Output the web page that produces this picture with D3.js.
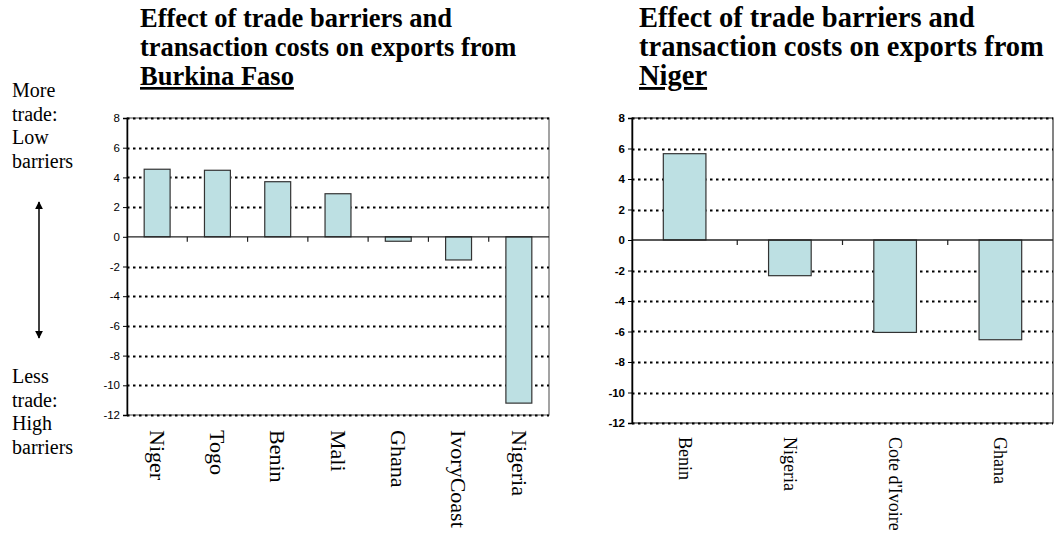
<!DOCTYPE html>
<html>
<head>
<meta charset="utf-8">
<script src="https://cdn.jsdelivr.net/npm/d3@7"></script>
<style>
  body { margin: 0; background: #fff; }
  svg { display: block; }
</style>
</head>
<body>
<svg id="chart" width="1055" height="533"></svg>
<script>
// Burkina Faso export effects by destination
const bfCountries = ["Niger", "Togo", "Benin", "Mali", "Ghana", "IvoryCoast", "Nigeria"];
const bfValues = [4.55, 4.48, 3.71, 2.9, -0.3, -1.56, -11.2];

// Niger export effects by destination
const neCountries = ["Benin", "Nigeria", "Cote d'Ivoire", "Ghana"];
const neValues = [5.66, -2.34, -6.06, -6.54];

const yTicks = [8, 6, 4, 2, 0, -2, -4, -6, -8, -10, -12];
const yDomain = [-12, 8];

const titleLines = ["Effect of trade barriers and", "transaction costs on exports from"];

const svg = d3.select("#chart");
const serif = "'Liberation Serif', 'Times New Roman', serif";
const sans = "'Liberation Sans', Arial, sans-serif";
const barFill = "#bde0e3";

function drawPanel(opts) {
  const { x0, x1, y0, y1, cats, vals, title, bold, labelSize, labelGap, barRatio, frameColor } = opts;
  const g = svg.append("g");

  const x = d3.scaleBand().domain(cats).range([x0, x1]).paddingInner(0).paddingOuter(0);
  const y = d3.scaleLinear().domain(yDomain).range([y1, y0]);

  // title block
  const t = g.append("text").attr("font-family", serif).attr("font-weight", "bold")
    .attr("font-size", opts.titleSize).attr("fill", "#000");
  titleLines.forEach((s, i) => {
    t.append("tspan").attr("x", opts.tx).attr("y", 27 + i * 29).text(s);
  });
  t.append("tspan").attr("x", opts.tx).attr("y", 27 + 2 * 29)
    .attr("text-decoration", "underline").text(title);

  // plot frame
  g.append("rect").attr("x", x0).attr("y", y0).attr("width", x1 - x0).attr("height", y1 - y0)
    .attr("fill", "none").attr("stroke", frameColor).attr("stroke-width", 1.2);

  // dotted gridlines
  g.append("g").selectAll("line").data(yTicks.filter(v => v !== 0)).join("line")
    .attr("x1", x0).attr("x2", x1)
    .attr("y1", d => Math.round(y(d)) + 0.5).attr("y2", d => Math.round(y(d)) + 0.5)
    .attr("stroke", "#000").attr("stroke-width", 2)
    .attr("stroke-dasharray", "2.5,3.5");

  // bars
  const bw = x.bandwidth() * barRatio;
  g.append("g").selectAll("rect").data(vals).join("rect")
    .attr("x", (d, i) => x(cats[i]) + (x.bandwidth() - bw) / 2)
    .attr("y", d => y(Math.max(0, d)))
    .attr("width", bw)
    .attr("height", d => Math.abs(y(d) - y(0)))
    .attr("fill", barFill).attr("stroke", "#333").attr("stroke-width", 1.2);

  // zero line with category ticks
  g.append("line").attr("x1", x0).attr("x2", x1).attr("y1", y(0)).attr("y2", y(0))
    .attr("stroke", "#222").attr("stroke-width", 1.3);
  g.append("g").selectAll("line").data(cats.slice(1)).join("line")
    .attr("x1", d => x(d)).attr("x2", d => x(d))
    .attr("y1", y(0)).attr("y2", y(0) + 5)
    .attr("stroke", "#222").attr("stroke-width", 1.2);

  // y axis
  const yAxis = d3.axisLeft(y).tickValues(yTicks).tickSize(4).tickPadding(3)
    .tickFormat(d => String(d));
  const ya = g.append("g").attr("transform", `translate(${x0},0)`).call(yAxis);
  ya.select(".domain").attr("stroke", "#000").attr("stroke-width", 1.5);
  ya.selectAll(".tick line").attr("stroke", "#000");
  ya.selectAll(".tick text").attr("font-family", sans).attr("font-size", 11.5)
    .attr("font-weight", bold ? "bold" : "normal").attr("fill", "#000");

  // rotated category labels
  g.append("g").selectAll("text").data(cats).join("text")
    .attr("transform", d => `translate(${x(d) + x.bandwidth() / 2},${y1 + labelGap}) rotate(90)`)
    .attr("dy", "0.33em")
    .attr("font-family", serif).attr("font-size", labelSize).attr("fill", "#000")
    .attr("text-anchor", "start")
    .text(d => d);
}

drawPanel({
  x0: 127, x1: 549, y0: 118, y1: 415, tx: 140, titleSize: 26.5,
  cats: bfCountries, vals: bfValues, title: "Burkina Faso",
  bold: false, labelSize: 22, labelGap: 15, barRatio: 0.43, frameColor: "#666"
});

drawPanel({
  x0: 632, x1: 1053, y0: 118, y1: 423, tx: 639, titleSize: 28.5,
  cats: neCountries, vals: neValues, title: "Niger",
  bold: true, labelSize: 18, labelGap: 14, barRatio: 0.405, frameColor: "#333"
});

// side annotation
const notes = svg.append("g").attr("font-family", serif).attr("font-size", 20).attr("fill", "#000");
["More", "trade:", "Low", "barriers"].forEach((s, i) => {
  notes.append("text").attr("x", 12).attr("y", 97 + i * 23.5).text(s);
});
["Less", "trade:", "High", "barriers"].forEach((s, i) => {
  notes.append("text").attr("x", 12).attr("y", 383 + i * 23.5).text(s);
});

const defs = svg.append("defs");
defs.append("marker").attr("id", "head").attr("viewBox", "0 0 10 10")
  .attr("refX", 9).attr("refY", 5).attr("markerWidth", 8).attr("markerHeight", 8)
  .attr("markerUnits", "userSpaceOnUse").attr("orient", "auto-start-reverse")
  .append("path").attr("d", "M0,0 L10,5 L0,10 z").attr("fill", "#000");
svg.append("line").attr("x1", 39).attr("x2", 39).attr("y1", 202).attr("y2", 338)
  .attr("stroke", "#000").attr("stroke-width", 1.5)
  .attr("marker-start", "url(#head)").attr("marker-end", "url(#head)");
</script>
</body>
</html>
